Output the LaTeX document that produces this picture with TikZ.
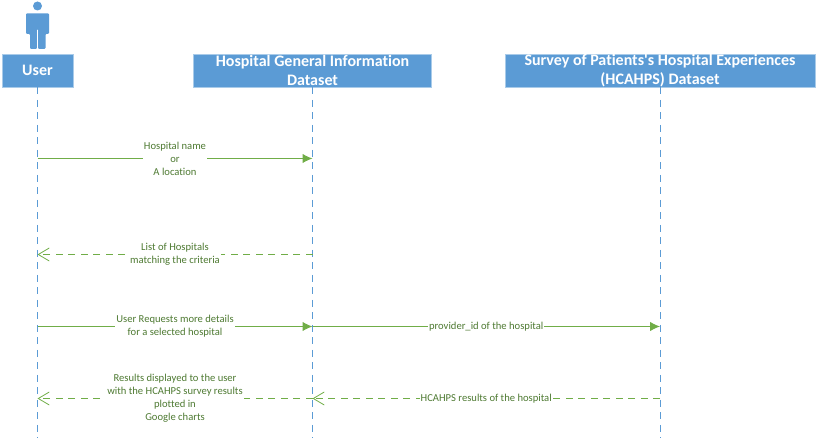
\documentclass[tikz,border=0pt]{standalone}
\usepackage{fontspec}
\setmainfont[Ligatures=NoCommon]{Carlito}
\usetikzlibrary{arrows.meta}
\definecolor{hdr}{HTML}{5B9BD5}
\definecolor{hdredge}{HTML}{A9CBE9}
\definecolor{grn}{HTML}{70AD47}
\definecolor{txt}{HTML}{4E7A32}
\tikzset{
  x=1pt,y=-1pt,
  hbox/.style={fill=hdr,draw=hdredge,line width=0.6pt,text=white,font=\fontsize{16}{19}\selectfont\bfseries,align=center,inner sep=0pt,anchor=center},
  life/.style={draw=hdr,line width=0.9pt,dash pattern=on 7pt off 5.5pt},
  msg/.style={draw=grn,line width=1pt,-{Latex[length=10pt,width=9.5pt]}},
  ret/.style={draw=grn,line width=1pt,dash pattern=on 7pt off 5.5pt,-{Straight Barb[length=11pt,width=13pt,line width=0.8pt]}},
  lab/.style={fill=white,text=txt,font=\fontsize{10.6}{13}\selectfont,align=center,inner sep=1pt},
}
\begin{document}
\begin{tikzpicture}
\useasboundingbox (0,0) rectangle (817,438);
% actor
\fill[hdr] (37.5,6) circle (4.5);
\fill[hdr,rounded corners=1pt] (26,13.5) -- (49,13.5) -- (49,34) -- (45.5,34) -- (45.5,49) -- (38.2,49) -- (38.2,29) -- (36.8,29) -- (36.8,49) -- (30,49) -- (30,34) -- (26,34) -- cycle;
% headers
\node[hbox,minimum width=71,minimum height=33] (user) at (37.5,70.5) {User};
\node[hbox,minimum width=238,minimum height=33] (hosp) at (312.5,70.5) {Hospital General Information\\Dataset};
\node[hbox,minimum width=310,minimum height=33] (surv) at (660,70.5) {Survey of Patients\textquotesingle s Hospital Experiences\\(HCAHPS) Dataset};
% lifeline ends
\coordinate (userend) at (37.5,438);
\coordinate (hospend) at (312.5,438);
\coordinate (survend) at (660,438);
\draw[life] (user.south) -- (userend);
\draw[life] (hosp.south) -- (hospend);
\draw[life] (surv.south) -- (survend);
% message anchors
\coordinate (u1) at (37.5,158.5);
\coordinate (h1) at (312.5,158.5);
\coordinate (u2) at (37.5,254.5);
\coordinate (h2) at (312.5,254.5);
\coordinate (u3) at (37.5,326.5);
\coordinate (h3) at (312.5,326.5);
\coordinate (s3) at (660,326.5);
\coordinate (u4) at (37.5,398.5);
\coordinate (h4) at (312.5,398.5);
\coordinate (s4) at (660,398.5);
% messages
\draw[msg] (u1) -- (h1) node[lab,pos=0.5] (l1) {Hospital name\\or\\A location};
\draw[ret] (h2) -- (u2) node[lab,pos=0.5] (l2) {List of Hospitals\\matching the criteria};
\draw[msg] (u3) -- (h3) node[lab,pos=0.5] (l3) {User Requests more details\\for a selected hospital};
\draw[msg] (h3) -- (s3) node[lab,pos=0.5] (l4) {provider\_id of the hospital};
\draw[ret] (h4) -- (u4) node[lab,pos=0.5] (l5) {Results displayed to the user\\with the HCAHPS survey results\\plotted in\\Google charts};
\draw[ret] (s4) -- (h4) node[lab,pos=0.5] (l6) {HCAHPS results of the hospital};
\end{tikzpicture}
\end{document}
